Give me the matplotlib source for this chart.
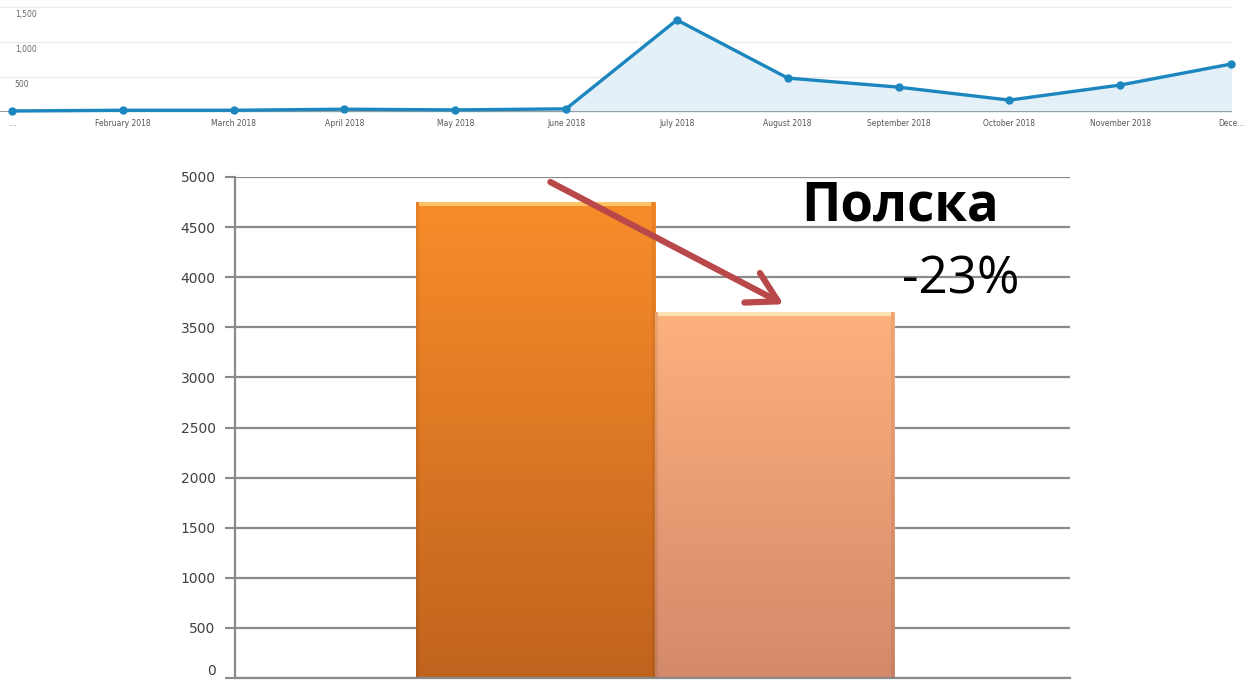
import numpy as np
import matplotlib.pyplot as plt
from matplotlib.colors import LinearSegmentedColormap
from matplotlib.patches import Rectangle

# ---- data -------------------------------------------------------------
months = ["…", "February 2018", "March 2018", "April 2018", "May 2018",
          "June 2018", "July 2018", "August 2018", "September 2018",
          "October 2018", "November 2018", "Dece..."]
monthly_values = [15, 25, 25, 40, 30, 45, 1315, 485, 355, 170, 385, 685]
monthly_ticks = [500, 1000, 1500]
monthly_tick_labels = ["500", "1,000", "1,500"]

bar_values = [4750, 3650]
bar_ticks = list(range(0, 5001, 500))
title_text = "Полска"
change_text = "-23%"

# ---- figure -------------------------------------------------------------
W, H = 1244, 681
fig = plt.figure(figsize=(W / 100, H / 100), dpi=100)
fig.patch.set_facecolor("white")


def px_box(x0, y0, x1, y1):
    return [x0 / W, 1 - y1 / H, (x1 - x0) / W, (y1 - y0) / H]


# ---- monthly line chart (top strip) -------------------------------------
ax1 = fig.add_axes(px_box(0, 0, 1232, 112))
x = np.arange(len(months))
ax1.set_xlim(-0.108, 11.009)
ax1.set_ylim(0, 1600)
for v in monthly_ticks:
    ax1.axhline(v, color="#ececec", lw=0.9, zorder=0)
ax1.fill_between(x, monthly_values, 0, color="#e3f0f8", zorder=1)
ax1.plot(x, monthly_values, color="#1c86bf", lw=2.4, marker="o", ms=5,
         zorder=3, clip_on=False)
ax1.axhline(0, color="#9a9a9a", lw=1.4, zorder=2)
for v, lbl in zip(monthly_ticks, monthly_tick_labels):
    ax1.annotate(lbl, xy=(0.012, v), xycoords=ax1.get_yaxis_transform(),
                 xytext=(0, -3), textcoords="offset pixels", va="top",
                 ha="left", fontsize=5.5, color="#666666")
ax1.set_xticks(x)
ax1.set_xticklabels(months, fontsize=5.5, color="#555555")
ax1.tick_params(axis="x", length=0, pad=5)
ax1.set_yticks([])
for s in ax1.spines.values():
    s.set_visible(False)
ax1.patch.set_alpha(0)

# ---- bar comparison (bottom) --------------------------------------------
ax2 = fig.add_axes(px_box(235, 177, 1070, 678))
ax2.set_ylim(0, 5000)
ax2.set_xlim(-1.255, 2.235)
ax2.set_yticks(bar_ticks)
ax2.set_yticklabels([str(t) for t in bar_ticks], fontsize=10, color="#404040")
ax2.tick_params(axis="y", length=7, width=1.5, color="#8a8a8a", pad=7)
# keep the baseline label inside the canvas
zero_lbl = ax2.get_yticklabels()[0]
zero_lbl.set_verticalalignment("bottom")
ax2.set_xticks([])
ax2.grid(axis="y", color="#8a8a8a", lw=1.6, zorder=0)
ax2.set_axisbelow(True)
for name, s in ax2.spines.items():
    if name in ("left", "bottom"):
        s.set_color("#8a8a8a")
        s.set_linewidth(1.6)
    else:
        s.set_visible(False)

gradients = [("#f88c2a", "#c0631e", "#ffc466"),
             ("#fdb17d", "#d4896a", "#ffe2b4")]
bars = ax2.bar([0, 1], bar_values, width=1.0, color="none",
               edgecolor="none", zorder=2)
for patch, (top, bottom, hl) in zip(bars, gradients):
    x0 = patch.get_x()
    w = patch.get_width()
    h = patch.get_height()
    cmap = LinearSegmentedColormap.from_list("g", [bottom, top])
    grad = np.linspace(0, 1, 256).reshape(-1, 1)
    im = ax2.imshow(grad, cmap=cmap, origin="lower", aspect="auto",
                    extent=[x0, x0 + w, 0, h], zorder=2)
    im.set_clip_path(patch)
    # bevel highlight along the top edge
    ax2.add_patch(Rectangle((x0 + 0.015, h - 40), w - 0.03, 40, color=hl,
                            lw=0, zorder=3))
    # soft shading along the vertical edges
    ax2.add_patch(Rectangle((x0, 0), 0.012, h, color="#000000", alpha=0.07,
                            lw=0, zorder=3))
    ax2.add_patch(Rectangle((x0 + w - 0.012, 0), 0.012, h, color="#000000",
                            alpha=0.06, lw=0, zorder=3))
ax2.set_xlim(-1.255, 2.235)
ax2.set_ylim(0, 5000)

# arrow from the first bar's top down to the second bar
ax2.annotate("", xy=(1.038, bar_values[1] + 80),
             xytext=(0.063, bar_values[0] + 200),
             arrowprops=dict(arrowstyle="->, head_length=1.05, head_width=0.6",
                             mutation_scale=20, color="#b9484a", lw=4.5,
                             shrinkA=0, shrinkB=0),
             zorder=5, annotation_clip=False)

fig.text(900 / W, 1 - 220 / H, title_text, ha="center", va="baseline",
         fontsize=38, fontweight="bold",
         family=["Open Sans", "Liberation Sans", "DejaVu Sans"],
         color="#000000")
fig.text(961 / W, 1 - 293 / H, change_text, ha="center", va="baseline",
         fontsize=37, fontweight="normal", family=["Open Sans", "DejaVu Sans"],
         color="#000000")

fig.savefig("out.png", dpi=100)
